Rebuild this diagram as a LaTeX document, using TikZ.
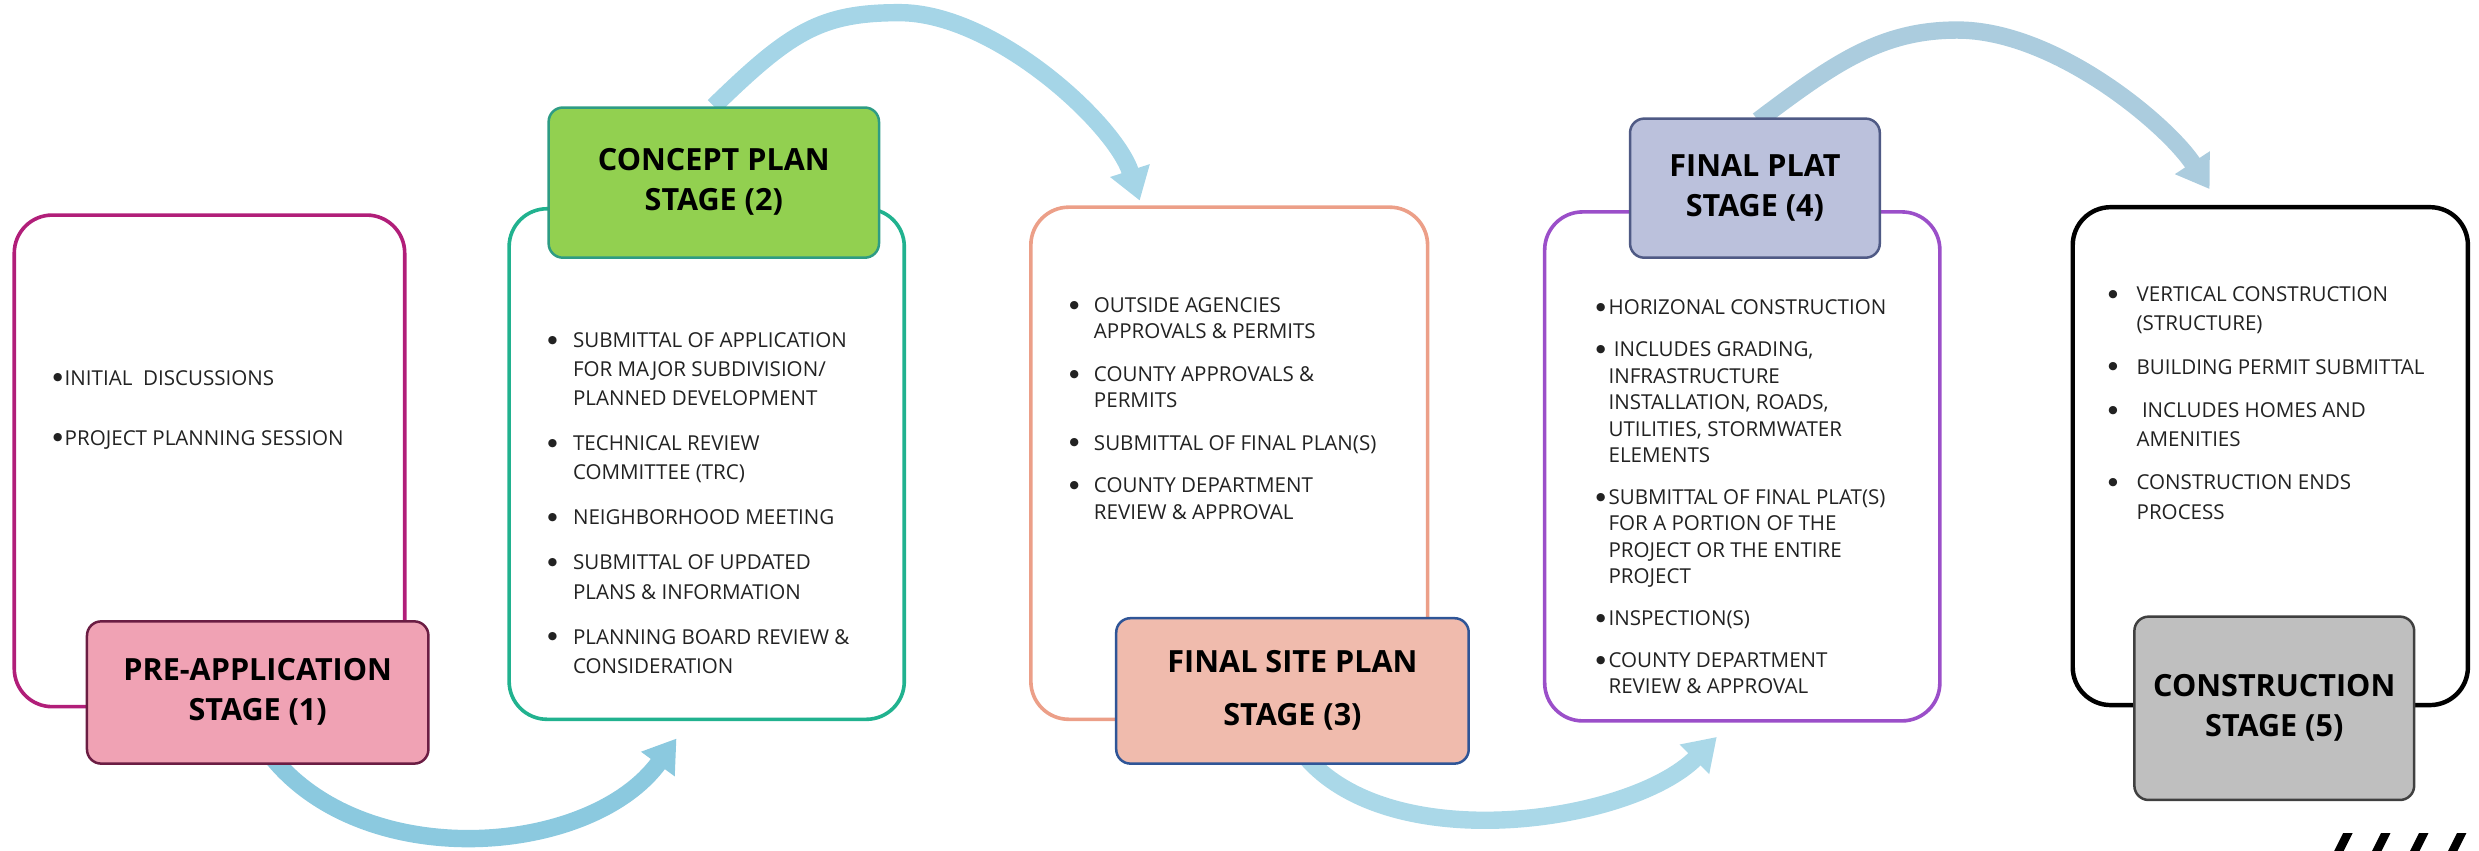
\documentclass[tikz,border=0pt]{standalone}
\usepackage{fontspec}
\setmainfont{Open Sans}
\usetikzlibrary{arrows.meta, backgrounds}

% frame and label colours, one pair per stage
\definecolor{preline}{HTML}{B11E79}
\definecolor{prefill}{HTML}{F0A2B4}
\definecolor{predraw}{HTML}{6B1D43}
\definecolor{conline}{HTML}{21B28F}
\definecolor{confill}{HTML}{92D050}
\definecolor{condraw}{HTML}{2E9C84}
\definecolor{siteline}{HTML}{EC9F88}
\definecolor{sitefill}{HTML}{F0BBAD}
\definecolor{sitedraw}{HTML}{2F5597}
\definecolor{platline}{HTML}{9B4FC9}
\definecolor{platfill}{HTML}{BBC1DC}
\definecolor{platdraw}{HTML}{4F5A85}
\definecolor{buildfill}{HTML}{BFBFBF}
\definecolor{builddraw}{HTML}{404040}
\definecolor{listtext}{HTML}{222222}
% arrows between the stages
\definecolor{flowa}{HTML}{8BC9DF}
\definecolor{flowb}{HTML}{A5D5E7}
\definecolor{flowc}{HTML}{AAD8E8}
\definecolor{flowd}{HTML}{ABCCDE}

\newcommand{\itemdot}{\raisebox{0.8pt}{$\bullet$}}

\begin{document}
\begin{tikzpicture}[%
    x = 0.02cm, y = -0.02cm,
    frame/.style = {draw, line width = 1.3pt, rounded corners = 0.48cm, fill = white},
    stage/.style = {draw, line width = 0.9pt, rounded corners = 0.18cm, inner sep = 0pt, font = \fontsize{11}{14.4}\selectfont\bfseries},
    items/.style = {anchor = base west, inner sep = 0pt, text = listtext, font = \fontsize{7.4}{10.5}\selectfont},
    flow/.style = {line width = 0.22cm, -{Triangle[width = 0.5cm, length = 0.4cm]}}]

    \useasboundingbox (0, 0) rectangle (1568, 538);

    % frames
    \node[frame, draw = preline, minimum width = 4.94cm, minimum height = 6.22cm] (box1) at (132.5, 291.5) {};
    \node[frame, draw = conline, minimum width = 5cm, minimum height = 6.46cm] (box2) at (447, 293.5) {};
    \node[frame, draw = siteline, minimum width = 5.02cm, minimum height = 6.48cm] (box3) at (777.5, 293) {};
    \node[frame, draw = platline, minimum width = 5cm, minimum height = 6.44cm] (box4) at (1102, 295) {};
    \node[frame, draw = black, line width = 1.6pt, minimum width = 5cm, minimum height = 6.3cm] (box5) at (1436, 288.5) {};

    % stage labels
    \node[stage, fill = prefill, draw = predraw, minimum width = 4.32cm, minimum height = 1.8cm] (lab1) at (163, 438)
        {\begin{tabular}{@{}c@{}}PRE-APPLICATION\\ STAGE (1)\end{tabular}};
    \node[stage, fill = confill, draw = condraw, minimum width = 4.18cm, minimum height = 1.9cm] (lab2) at (451.5, 115.5)
        {\begin{tabular}{@{}c@{}}CONCEPT PLAN\\ STAGE (2)\end{tabular}};
    \node[stage, fill = sitefill, draw = sitedraw, minimum width = 4.46cm, minimum height = 1.84cm] (lab3) at (817.5, 437)
        {\begin{tabular}{@{}c@{}}FINAL SITE PLAN\\[4.9pt] STAGE (3)\end{tabular}};
    \node[stage, fill = platfill, draw = platdraw, minimum width = 3.16cm, minimum height = 1.76cm] (lab4) at (1110, 119)
        {\begin{tabular}{@{}c@{}}FINAL PLAT\\ STAGE (4)\end{tabular}};
    \node[stage, fill = buildfill, draw = builddraw, minimum width = 3.54cm, minimum height = 2.32cm] (lab5) at (1438.5, 448)
        {\begin{tabular}{@{}c@{}}CONSTRUCTION\\ STAGE (5)\end{tabular}};

    % bullet lists
    \node[items] (list1) at (32.6, 243.6)
        {\begin{tabular}[t]{@{}p{0.16cm}@{}l@{}}
        \itemdot & INITIAL\ \ DISCUSSIONS\\[11.1pt]
        \itemdot & PROJECT PLANNING SESSION
        \end{tabular}};
    \node[items] (list2) at (345.6, 219.7)
        {\begin{tabular}[t]{@{}p{0.33cm}@{}l@{}}
        \itemdot & SUBMITTAL OF APPLICATION\\
                 & FOR MAJOR SUBDIVISION/\\
                 & PLANNED DEVELOPMENT\\[5.7pt]
        \itemdot & TECHNICAL REVIEW\\
                 & COMMITTEE (TRC)\\[5.7pt]
        \itemdot & NEIGHBORHOOD MEETING\\[5.7pt]
        \itemdot & SUBMITTAL OF UPDATED\\
                 & PLANS \& INFORMATION\\[5.7pt]
        \itemdot & PLANNING BOARD REVIEW \&\\
                 & CONSIDERATION
        \end{tabular}};
    \node[items, font = \fontsize{7.4}{9.4}\selectfont] (list3) at (675.6, 197.6)
        {\begin{tabular}[t]{@{}p{0.32cm}@{}l@{}}
        \itemdot & OUTSIDE AGENCIES\\
                 & APPROVALS \& PERMITS\\[6pt]
        \itemdot & COUNTY APPROVALS \&\\
                 & PERMITS\\[6pt]
        \itemdot & SUBMITTAL OF FINAL PLAN(S)\\[6pt]
        \itemdot & COUNTY DEPARTMENT\\
                 & REVIEW \& APPROVAL
        \end{tabular}};
    \node[items, font = \fontsize{7.4}{9.5}\selectfont] (list4) at (1008.6, 199.2)
        {\begin{tabular}[t]{@{}p{0.17cm}@{}l@{}}
        \itemdot & HORIZONAL CONSTRUCTION\\[5.6pt]
        \itemdot & \ INCLUDES GRADING,\\
                 & INFRASTRUCTURE\\
                 & INSTALLATION, ROADS,\\
                 & UTILITIES, STORMWATER\\
                 & ELEMENTS\\[5.6pt]
        \itemdot & SUBMITTAL OF FINAL PLAT(S)\\
                 & FOR A PORTION OF THE\\
                 & PROJECT OR THE ENTIRE\\
                 & PROJECT\\[5.6pt]
        \itemdot & INSPECTION(S)\\[5.6pt]
        \itemdot & COUNTY DEPARTMENT\\
                 & REVIEW \& APPROVAL
        \end{tabular}};
    \node[items] (list5) at (1332.6, 190.7)
        {\begin{tabular}[t]{@{}p{0.37cm}@{}l@{}}
        \itemdot & VERTICAL CONSTRUCTION\\
                 & (STRUCTURE)\\[5.1pt]
        \itemdot & BUILDING PERMIT SUBMITTAL\\[5.1pt]
        \itemdot & \ INCLUDES HOMES AND\\
                 & AMENITIES\\[5.1pt]
        \itemdot & CONSTRUCTION ENDS\\
                 & PROCESS
        \end{tabular}};

    % curved arrows, behind the labels
    \begin{scope}[on background layer]
        \draw[flow, color = flowa] ([shift = {(9, -5)}]lab1.south) .. controls (232, 553) and (374, 541) .. ([shift = {(107, 11)}]box2.south west);
        \draw[flow, color = flowb] (lab2.north) .. controls (500, 20) and (519, 8) .. (569, 8) .. controls (629, 8) and (705, 78) .. ([shift = {(70, -3)}]box3.north west);
        \draw[flow, color = flowc] ([shift = {(8.5, -5)}]lab3.south) .. controls (881, 543) and (1032, 520) .. ([shift = {(110, 9)}]box4.south west);
        \draw[flow, color = flowd] ([shift = {(2, 2)}]lab4.north) .. controls (1160, 40) and (1190, 19) .. (1238, 19) .. controls (1300, 19) and (1371, 79) .. ([shift = {(88, -10)}]box5.north west);
    \end{scope}

    % hatch marks in the corner
    \foreach \i in {0, ..., 3}
        \fill (1482 + 24*\i, 527) -- ++(6, 0) -- ++(-7, 14) -- ++(-6, 0) -- cycle;
\end{tikzpicture}
\end{document}
